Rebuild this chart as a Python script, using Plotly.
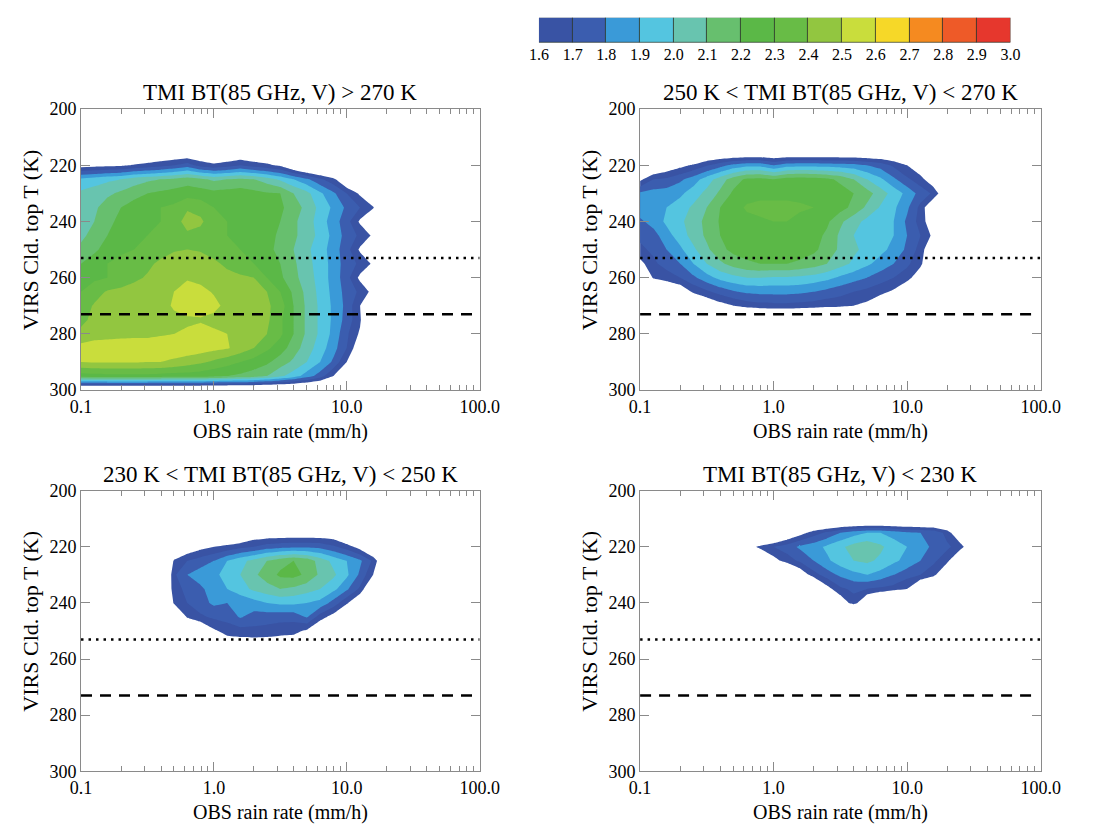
import plotly.graph_objects as go

# Grid coordinates: rain rate (mm/h, 0.1-decade steps) and VIRS cloud-top temperature (K)
RAIN_RATE = [0.1, 0.126, 0.158, 0.2, 0.251, 0.316, 0.398, 0.501, 0.631, 0.794,
             1.0, 1.26, 1.58, 2.0, 2.51, 3.16, 3.98, 5.01, 6.31, 7.94,
             10.0, 12.6, 15.8, 20.0, 25.1, 31.6, 39.8]
CLOUD_TOP_T = [210, 215, 220, 225, 230, 235, 240, 245, 250, 255,
               260, 265, 270, 275, 280, 285, 290, 295, 300]

# Binned field values, one row per CLOUD_TOP_T entry (values below 1.6 are left blank)
P1_WARM = [
    [1, 1, 1, 1, 1, 1, 1, 1, 1, 1, 1, 1, 1, 1, 1, 1, 1, 1, 1, 1, 1, 1, 1, 1, 1, 1, 1],
    [1.45, 1.45, 1.45, 1.45, 1.45, 1.45, 1.45, 1.45, 1.45, 1.45, 1.45, 1.45, 1.45, 1.45, 1.45, 1.45, 1.45, 1.2, 1.2, 1.2, 1.2, 1, 1, 1, 1, 1, 1],
    [1.55, 1.56, 1.57, 1.58, 1.61, 1.63, 1.66, 1.70, 1.75, 1.66, 1.62, 1.65, 1.70, 1.65, 1.62, 1.58, 1.45, 1.35, 1.30, 1.25, 1.20, 1, 1, 1, 1, 1, 1],
    [1.92, 1.95, 1.98, 2.00, 2.05, 2.08, 2.10, 2.12, 2.15, 2.12, 2.08, 2.10, 2.12, 2.10, 2.05, 1.98, 1.90, 1.82, 1.72, 1.63, 1.45, 1.30, 1, 1, 1, 1, 1],
    [2.02, 2.05, 2.08, 2.12, 2.16, 2.20, 2.22, 2.24, 2.26, 2.25, 2.23, 2.24, 2.25, 2.23, 2.21, 2.20, 2.10, 2.03, 1.92, 1.82, 1.70, 1.58, 1.30, 1, 1, 1, 1],
    [2.05, 2.08, 2.15, 2.20, 2.25, 2.28, 2.30, 2.32, 2.38, 2.36, 2.30, 2.28, 2.28, 2.27, 2.25, 2.22, 2.15, 2.07, 1.97, 1.88, 1.78, 1.70, 1.62, 1.20, 1, 1, 1],
    [2.05, 2.10, 2.18, 2.22, 2.26, 2.28, 2.30, 2.33, 2.46, 2.42, 2.33, 2.30, 2.30, 2.28, 2.25, 2.20, 2.12, 2.05, 1.95, 1.85, 1.74, 1.58, 1.35, 1, 1, 1, 1],
    [2.08, 2.13, 2.20, 2.25, 2.28, 2.30, 2.32, 2.33, 2.37, 2.36, 2.33, 2.30, 2.30, 2.28, 2.24, 2.18, 2.12, 2.05, 1.97, 1.87, 1.76, 1.68, 1.58, 1, 1, 1, 1],
    [2.12, 2.18, 2.24, 2.28, 2.30, 2.33, 2.36, 2.39, 2.40, 2.39, 2.36, 2.32, 2.30, 2.27, 2.23, 2.17, 2.10, 2.02, 1.95, 1.85, 1.74, 1.58, 1.30, 1, 1, 1, 1],
    [2.20, 2.25, 2.30, 2.33, 2.36, 2.38, 2.42, 2.45, 2.46, 2.45, 2.42, 2.38, 2.33, 2.30, 2.25, 2.20, 2.12, 2.03, 1.96, 1.86, 1.75, 1.68, 1.58, 1, 1, 1, 1],
    [2.25, 2.28, 2.30, 2.33, 2.38, 2.41, 2.44, 2.47, 2.49, 2.47, 2.45, 2.43, 2.42, 2.40, 2.30, 2.22, 2.13, 2.05, 1.96, 1.86, 1.74, 1.57, 1.30, 1, 1, 1, 1],
    [2.30, 2.36, 2.41, 2.43, 2.44, 2.45, 2.46, 2.50, 2.54, 2.53, 2.49, 2.46, 2.44, 2.42, 2.40, 2.30, 2.18, 2.07, 1.97, 1.87, 1.76, 1.68, 1.56, 1, 1, 1, 1],
    [2.35, 2.41, 2.43, 2.44, 2.45, 2.46, 2.47, 2.51, 2.56, 2.55, 2.53, 2.47, 2.45, 2.44, 2.42, 2.35, 2.20, 2.08, 1.98, 1.88, 1.77, 1.60, 1.35, 1, 1, 1, 1],
    [2.38, 2.42, 2.44, 2.45, 2.46, 2.47, 2.47, 2.48, 2.48, 2.49, 2.47, 2.46, 2.45, 2.44, 2.42, 2.32, 2.20, 2.08, 1.98, 1.88, 1.76, 1.62, 1.30, 1, 1, 1, 1],
    [2.42, 2.45, 2.46, 2.47, 2.48, 2.48, 2.49, 2.50, 2.52, 2.54, 2.52, 2.50, 2.47, 2.43, 2.40, 2.32, 2.20, 2.08, 1.98, 1.87, 1.72, 1.58, 1.30, 1, 1, 1, 1],
    [2.54, 2.56, 2.56, 2.56, 2.55, 2.55, 2.56, 2.56, 2.56, 2.55, 2.53, 2.51, 2.46, 2.40, 2.32, 2.25, 2.15, 2.05, 1.95, 1.84, 1.70, 1.50, 1.20, 1, 1, 1, 1],
    [2.50, 2.51, 2.51, 2.51, 2.51, 2.50, 2.50, 2.48, 2.45, 2.42, 2.38, 2.34, 2.30, 2.26, 2.22, 2.15, 2.08, 2.00, 1.90, 1.78, 1.60, 1.30, 1, 1, 1, 1, 1],
    [2.25, 2.26, 2.27, 2.27, 2.27, 2.27, 2.26, 2.25, 2.25, 2.24, 2.22, 2.20, 2.18, 2.15, 2.10, 2.02, 1.95, 1.85, 1.75, 1.60, 1.40, 1.20, 1, 1, 1, 1, 1],
    [1.30, 1.30, 1.30, 1.30, 1.30, 1.30, 1.30, 1.30, 1.30, 1.30, 1.30, 1.30, 1.30, 1.30, 1.30, 1.30, 1.30, 1.30, 1.30, 1.30, 1, 1, 1, 1, 1, 1, 1],
]

P2_MID = [
    [1, 1, 1, 1, 1, 1, 1, 1, 1, 1, 1, 1, 1, 1, 1, 1, 1, 1, 1, 1, 1, 1, 1, 1, 1, 1, 1],
    [1.3, 1.3, 1.3, 1.3, 1.3, 1.4, 1.4, 1.4, 1.4, 1.4, 1.4, 1.4, 1.4, 1.4, 1.4, 1.4, 1.4, 1.4, 1.4, 1.4, 1.35, 1.3, 1, 1, 1, 1, 1],
    [1.30, 1.42, 1.50, 1.56, 1.62, 1.69, 1.76, 1.83, 1.87, 1.87, 1.80, 1.86, 1.87, 1.87, 1.86, 1.85, 1.84, 1.80, 1.76, 1.68, 1.60, 1.50, 1.35, 1, 1, 1, 1],
    [1.57, 1.70, 1.72, 1.78, 1.85, 1.95, 2.05, 2.15, 2.22, 2.23, 2.20, 2.24, 2.25, 2.24, 2.22, 2.18, 2.10, 2.00, 1.92, 1.82, 1.72, 1.64, 1.50, 1.20, 1, 1, 1],
    [1.82, 1.84, 1.85, 1.88, 1.95, 2.03, 2.12, 2.22, 2.27, 2.28, 2.28, 2.28, 2.28, 2.27, 2.26, 2.24, 2.20, 2.14, 2.05, 1.96, 1.87, 1.76, 1.68, 1.45, 1, 1, 1],
    [1.86, 1.88, 1.90, 1.95, 2.02, 2.10, 2.20, 2.27, 2.31, 2.32, 2.32, 2.32, 2.31, 2.30, 2.28, 2.24, 2.17, 2.08, 1.99, 1.92, 1.82, 1.67, 1.45, 1.10, 1, 1, 1],
    [1.78, 1.84, 1.92, 1.98, 2.05, 2.13, 2.21, 2.26, 2.28, 2.29, 2.30, 2.30, 2.28, 2.26, 2.22, 2.12, 2.04, 1.97, 1.94, 1.90, 1.78, 1.66, 1.50, 1.10, 1, 1, 1],
    [1.72, 1.76, 1.86, 1.95, 2.04, 2.12, 2.20, 2.25, 2.27, 2.28, 2.28, 2.28, 2.26, 2.24, 2.18, 2.08, 2.00, 1.95, 1.93, 1.90, 1.80, 1.70, 1.57, 1.10, 1, 1, 1],
    [1.68, 1.72, 1.80, 1.88, 1.98, 2.08, 2.17, 2.23, 2.25, 2.26, 2.26, 2.26, 2.25, 2.22, 2.16, 2.08, 2.02, 1.97, 1.93, 1.87, 1.78, 1.66, 1.45, 1, 1, 1, 1],
    [1.56, 1.68, 1.74, 1.80, 1.90, 2.00, 2.08, 2.14, 2.18, 2.20, 2.20, 2.20, 2.18, 2.15, 2.10, 2.04, 1.98, 1.92, 1.86, 1.80, 1.72, 1.63, 1.40, 1, 1, 1, 1],
    [1.30, 1.62, 1.65, 1.70, 1.78, 1.86, 1.93, 1.97, 2.00, 2.00, 1.99, 1.99, 1.98, 1.96, 1.93, 1.88, 1.84, 1.80, 1.75, 1.70, 1.65, 1.50, 1.20, 1, 1, 1, 1],
    [1, 1.30, 1.45, 1.50, 1.62, 1.68, 1.74, 1.79, 1.82, 1.83, 1.83, 1.83, 1.82, 1.80, 1.77, 1.74, 1.70, 1.67, 1.63, 1.58, 1.45, 1.20, 1, 1, 1, 1, 1],
    [1, 1, 1.20, 1.30, 1.40, 1.48, 1.55, 1.60, 1.64, 1.66, 1.67, 1.67, 1.66, 1.65, 1.63, 1.62, 1.60, 1.57, 1.50, 1.40, 1.20, 1, 1, 1, 1, 1, 1],
    [1, 1, 1, 1.3, 1.3, 1.3, 1.3, 1.3, 1.3, 1.3, 1.3, 1.3, 1.3, 1.3, 1.3, 1.3, 1.3, 1.3, 1.3, 1, 1, 1, 1, 1, 1, 1, 1],
    [1, 1, 1, 1, 1, 1, 1, 1, 1, 1, 1, 1, 1, 1, 1, 1, 1, 1, 1, 1, 1, 1, 1, 1, 1, 1, 1],
    [1, 1, 1, 1, 1, 1, 1, 1, 1, 1, 1, 1, 1, 1, 1, 1, 1, 1, 1, 1, 1, 1, 1, 1, 1, 1, 1],
    [1, 1, 1, 1, 1, 1, 1, 1, 1, 1, 1, 1, 1, 1, 1, 1, 1, 1, 1, 1, 1, 1, 1, 1, 1, 1, 1],
    [1, 1, 1, 1, 1, 1, 1, 1, 1, 1, 1, 1, 1, 1, 1, 1, 1, 1, 1, 1, 1, 1, 1, 1, 1, 1, 1],
    [1, 1, 1, 1, 1, 1, 1, 1, 1, 1, 1, 1, 1, 1, 1, 1, 1, 1, 1, 1, 1, 1, 1, 1, 1, 1, 1],
]

P3_COLD = [
    [1, 1, 1, 1, 1, 1, 1, 1, 1, 1, 1, 1, 1, 1, 1, 1, 1, 1, 1, 1, 1, 1, 1, 1, 1, 1, 1],
    [1, 1, 1, 1, 1, 1, 1, 1, 1, 1, 1, 1.4, 1.4, 1.5, 1.5, 1.5, 1.5, 1.5, 1.5, 1.5, 1.4, 1, 1, 1, 1, 1, 1],
    [1, 1, 1, 1, 1, 1, 1, 1.30, 1.50, 1.56, 1.60, 1.63, 1.67, 1.70, 1.75, 1.77, 1.78, 1.78, 1.77, 1.72, 1.65, 1.55, 1.40, 1.20, 1, 1, 1],
    [1, 1, 1, 1, 1, 1, 1.20, 1.62, 1.70, 1.75, 1.80, 1.90, 1.97, 2.03, 2.10, 2.16, 2.20, 2.16, 2.06, 1.97, 1.90, 1.82, 1.68, 1.40, 1, 1, 1],
    [1, 1, 1, 1, 1, 1, 1.30, 1.68, 1.80, 1.85, 1.88, 1.93, 2.00, 2.08, 2.15, 2.22, 2.23, 2.18, 2.08, 2.02, 1.92, 1.78, 1.60, 1.20, 1, 1, 1],
    [1, 1, 1, 1, 1, 1, 1.30, 1.67, 1.72, 1.78, 1.85, 1.90, 1.96, 2.02, 2.06, 2.10, 2.08, 2.04, 2.00, 1.93, 1.82, 1.68, 1.40, 1, 1, 1, 1],
    [1, 1, 1, 1, 1, 1, 1.20, 1.62, 1.70, 1.76, 1.82, 1.80, 1.82, 1.86, 1.90, 1.92, 1.92, 1.90, 1.87, 1.76, 1.62, 1.45, 1.20, 1, 1, 1, 1],
    [1, 1, 1, 1, 1, 1, 1, 1.30, 1.62, 1.68, 1.72, 1.74, 1.81, 1.76, 1.75, 1.74, 1.74, 1.81, 1.65, 1.55, 1.35, 1, 1, 1, 1, 1, 1],
    [1, 1, 1, 1, 1, 1, 1, 1, 1.30, 1.45, 1.58, 1.64, 1.66, 1.67, 1.66, 1.64, 1.63, 1.58, 1.45, 1.20, 1, 1, 1, 1, 1, 1, 1],
    [1, 1, 1, 1, 1, 1, 1, 1, 1, 1, 1, 1.52, 1.52, 1.52, 1.52, 1.52, 1.52, 1, 1, 1, 1, 1, 1, 1, 1, 1, 1],
    [1, 1, 1, 1, 1, 1, 1, 1, 1, 1, 1, 1, 1, 1, 1, 1, 1, 1, 1, 1, 1, 1, 1, 1, 1, 1, 1],
    [1, 1, 1, 1, 1, 1, 1, 1, 1, 1, 1, 1, 1, 1, 1, 1, 1, 1, 1, 1, 1, 1, 1, 1, 1, 1, 1],
    [1, 1, 1, 1, 1, 1, 1, 1, 1, 1, 1, 1, 1, 1, 1, 1, 1, 1, 1, 1, 1, 1, 1, 1, 1, 1, 1],
    [1, 1, 1, 1, 1, 1, 1, 1, 1, 1, 1, 1, 1, 1, 1, 1, 1, 1, 1, 1, 1, 1, 1, 1, 1, 1, 1],
    [1, 1, 1, 1, 1, 1, 1, 1, 1, 1, 1, 1, 1, 1, 1, 1, 1, 1, 1, 1, 1, 1, 1, 1, 1, 1, 1],
    [1, 1, 1, 1, 1, 1, 1, 1, 1, 1, 1, 1, 1, 1, 1, 1, 1, 1, 1, 1, 1, 1, 1, 1, 1, 1, 1],
    [1, 1, 1, 1, 1, 1, 1, 1, 1, 1, 1, 1, 1, 1, 1, 1, 1, 1, 1, 1, 1, 1, 1, 1, 1, 1, 1],
    [1, 1, 1, 1, 1, 1, 1, 1, 1, 1, 1, 1, 1, 1, 1, 1, 1, 1, 1, 1, 1, 1, 1, 1, 1, 1, 1],
    [1, 1, 1, 1, 1, 1, 1, 1, 1, 1, 1, 1, 1, 1, 1, 1, 1, 1, 1, 1, 1, 1, 1, 1, 1, 1, 1],
]

P4_ICE = [
    [1, 1, 1, 1, 1, 1, 1, 1, 1, 1, 1, 1, 1, 1.3, 1.3, 1.3, 1.3, 1.3, 1.3, 1.3, 1.3, 1.3, 1.3, 1.3, 1.3, 1, 1],
    [1, 1, 1, 1, 1, 1, 1, 1, 1, 1, 1.30, 1.45, 1.55, 1.65, 1.72, 1.80, 1.86, 1.90, 1.90, 1.86, 1.82, 1.80, 1.78, 1.66, 1.45, 1.20, 1],
    [1, 1, 1, 1, 1, 1, 1, 1, 1.50, 1.65, 1.70, 1.75, 1.82, 1.86, 1.92, 1.98, 2.04, 2.07, 2.02, 1.95, 1.90, 1.84, 1.78, 1.72, 1.65, 1.45, 1],
    [1, 1, 1, 1, 1, 1, 1, 1, 1, 1.30, 1.55, 1.65, 1.72, 1.80, 1.88, 1.95, 2.00, 2.02, 1.98, 1.92, 1.87, 1.80, 1.72, 1.63, 1.40, 1, 1],
    [1, 1, 1, 1, 1, 1, 1, 1, 1, 1, 1, 1.30, 1.50, 1.66, 1.75, 1.82, 1.87, 1.90, 1.86, 1.80, 1.74, 1.70, 1.64, 1.40, 1, 1, 1],
    [1, 1, 1, 1, 1, 1, 1, 1, 1, 1, 1, 1, 1, 1.30, 1.55, 1.68, 1.72, 1.70, 1.68, 1.66, 1.60, 1.40, 1.20, 1, 1, 1, 1],
    [1, 1, 1, 1, 1, 1, 1, 1, 1, 1, 1, 1, 1, 1, 1, 1.50, 1.66, 1.45, 1.30, 1, 1, 1, 1, 1, 1, 1, 1],
    [1, 1, 1, 1, 1, 1, 1, 1, 1, 1, 1, 1, 1, 1, 1, 1, 1, 1, 1, 1, 1, 1, 1, 1, 1, 1, 1],
    [1, 1, 1, 1, 1, 1, 1, 1, 1, 1, 1, 1, 1, 1, 1, 1, 1, 1, 1, 1, 1, 1, 1, 1, 1, 1, 1],
    [1, 1, 1, 1, 1, 1, 1, 1, 1, 1, 1, 1, 1, 1, 1, 1, 1, 1, 1, 1, 1, 1, 1, 1, 1, 1, 1],
    [1, 1, 1, 1, 1, 1, 1, 1, 1, 1, 1, 1, 1, 1, 1, 1, 1, 1, 1, 1, 1, 1, 1, 1, 1, 1, 1],
    [1, 1, 1, 1, 1, 1, 1, 1, 1, 1, 1, 1, 1, 1, 1, 1, 1, 1, 1, 1, 1, 1, 1, 1, 1, 1, 1],
    [1, 1, 1, 1, 1, 1, 1, 1, 1, 1, 1, 1, 1, 1, 1, 1, 1, 1, 1, 1, 1, 1, 1, 1, 1, 1, 1],
    [1, 1, 1, 1, 1, 1, 1, 1, 1, 1, 1, 1, 1, 1, 1, 1, 1, 1, 1, 1, 1, 1, 1, 1, 1, 1, 1],
    [1, 1, 1, 1, 1, 1, 1, 1, 1, 1, 1, 1, 1, 1, 1, 1, 1, 1, 1, 1, 1, 1, 1, 1, 1, 1, 1],
    [1, 1, 1, 1, 1, 1, 1, 1, 1, 1, 1, 1, 1, 1, 1, 1, 1, 1, 1, 1, 1, 1, 1, 1, 1, 1, 1],
    [1, 1, 1, 1, 1, 1, 1, 1, 1, 1, 1, 1, 1, 1, 1, 1, 1, 1, 1, 1, 1, 1, 1, 1, 1, 1, 1],
    [1, 1, 1, 1, 1, 1, 1, 1, 1, 1, 1, 1, 1, 1, 1, 1, 1, 1, 1, 1, 1, 1, 1, 1, 1, 1, 1],
    [1, 1, 1, 1, 1, 1, 1, 1, 1, 1, 1, 1, 1, 1, 1, 1, 1, 1, 1, 1, 1, 1, 1, 1, 1, 1, 1],
]

PANEL_TITLES = [
    "TMI BT(85 GHz, V) > 270 K",
    "250 K < TMI BT(85 GHz, V) < 270 K",
    "230 K < TMI BT(85 GHz, V) < 250 K",
    "TMI BT(85 GHz, V) < 230 K",
]
PANEL_GRIDS = [P1_WARM, P2_MID, P3_COLD, P4_ICE]

# Contour levels and the fill colour of each band between consecutive levels
LEVELS = [1.6, 1.7, 1.8, 1.9, 2.0, 2.1, 2.2, 2.3, 2.4, 2.5, 2.6, 2.7, 2.8, 2.9, 3.0]
LEVEL_LABELS = ["1.6", "1.7", "1.8", "1.9", "2.0", "2.1", "2.2", "2.3",
                "2.4", "2.5", "2.6", "2.7", "2.8", "2.9", "3.0"]
BAND_COLORS = ["#3953A4", "#3B5DAF", "#3A9AD8", "#54C5E0", "#68C4AF", "#67BF6E",
               "#5BB847", "#68BC46", "#92C640", "#C9DD3C", "#F6D828", "#F58A20",
               "#EE5A28", "#E6372D"]

# Reference temperatures: -20 C (dotted) and freezing level (dashed)
T_DOTTED = 253
T_DASHED = 273

X_TICKS = [0.1, 1, 10, 100]
X_TICKTEXT = ["0.1", "1.0", "10.0", "100.0"]
X_MINOR = [0.2, 0.3, 0.4, 0.5, 0.6, 0.7, 0.8, 0.9,
           2, 3, 4, 5, 6, 7, 8, 9,
           20, 30, 40, 50, 60, 70, 80, 90]
Y_TICKS = [200, 220, 240, 260, 280, 300]

FONT = "Liberation Serif"
AXIS_GRAY = "#8a8a8a"
W, H = 1119, 833

# fill colorscale: white below the first level, then one colour per band
fill_colors = ["#ffffff"] + BAND_COLORS + [BAND_COLORS[-1]]
n_stops = len(fill_colors) - 1
colorscale = [[i / n_stops, c] for i, c in enumerate(fill_colors)]

# panel boxes in pixels: (left, right, top, bottom)
boxes = [(72, 482, 101.5, 389.5), (647, 1059, 101.5, 389.5),
         (72, 482, 492.5, 780), (647, 1059, 492.5, 780)]

fig = go.Figure()
layout = dict(
    width=W, height=H,
    margin=dict(l=0, r=0, t=0, b=0),
    paper_bgcolor="white", plot_bgcolor="white",
    showlegend=False,
    font=dict(family=FONT, color="black"),
    annotations=[],
)

for k, (grid, title, box) in enumerate(zip(PANEL_GRIDS, PANEL_TITLES, boxes), start=1):
    xa = "x" if k == 1 else f"x{k}"
    ya = "y" if k == 1 else f"y{k}"
    left, right, top, bottom = box

    fig.add_trace(go.Contour(
        x=RAIN_RATE, y=CLOUD_TOP_T, z=grid,
        xaxis=xa, yaxis=ya,
        colorscale=colorscale,
        autocontour=False,
        contours=dict(start=LEVELS[0], end=LEVELS[-1], size=0.1,
                      coloring="fill", showlines=False),
        line=dict(width=0, smoothing=0),
        showscale=False, hoverinfo="skip",
    ))
    fig.add_trace(go.Scatter(
        x=[X_TICKS[0], X_TICKS[-1]], y=[T_DOTTED, T_DOTTED],
        xaxis=xa, yaxis=ya, mode="lines",
        line=dict(color="black", width=2.5, dash="2.5px,5px"),
        hoverinfo="skip",
    ))
    fig.add_trace(go.Scatter(
        x=[X_TICKS[0], 90], y=[T_DASHED, T_DASHED],
        xaxis=xa, yaxis=ya, mode="lines",
        line=dict(color="black", width=2.5, dash="11px,8px"),
        hoverinfo="skip",
    ))

    xkey = "xaxis" if k == 1 else f"xaxis{k}"
    ykey = "yaxis" if k == 1 else f"yaxis{k}"
    layout[xkey] = dict(
        domain=[left / W, right / W], anchor=ya,
        type="log", range=[-1, 2],
        tickmode="array", tickvals=X_TICKS, ticktext=X_TICKTEXT,
        ticks="inside", ticklen=9, tickwidth=1, tickcolor=AXIS_GRAY,
        minor=dict(tickmode="array", tickvals=X_MINOR, ticks="inside",
                   ticklen=5, tickwidth=1, tickcolor=AXIS_GRAY, showgrid=False),
        showline=True, linecolor=AXIS_GRAY, linewidth=1, mirror="ticks",
        showgrid=False, zeroline=False,
        tickfont=dict(size=18, family=FONT, color="black"),
    )
    layout[ykey] = dict(
        domain=[1 - bottom / H, 1 - top / H], anchor=xa,
        range=[300, 200],
        tickmode="array", tickvals=Y_TICKS,
        ticks="inside", ticklen=9, tickwidth=1, tickcolor=AXIS_GRAY,
        showline=True, linecolor=AXIS_GRAY, linewidth=1, mirror="ticks",
        showgrid=False, zeroline=False,
        tickfont=dict(size=18, family=FONT, color="black"),
    )

    cx = (left + right) / 2
    title_y = top - 17
    layout["annotations"].append(dict(
        text=title, x=cx / W, y=1 - title_y / H, xref="paper", yref="paper",
        xanchor="center", yanchor="middle", showarrow=False,
        font=dict(size=23, family=FONT, color="black"),
    ))
    layout["annotations"].append(dict(
        text="OBS rain rate (mm/h)", x=cx / W, y=1 - (bottom + 42) / H,
        xref="paper", yref="paper", xanchor="center", yanchor="middle",
        showarrow=False, font=dict(size=20, family=FONT, color="black"),
    ))
    layout["annotations"].append(dict(
        text="VIRS Cld. top T (K)", x=(left - 52) / W,
        y=1 - ((top + bottom) / 2 - 10) / H,
        xref="paper", yref="paper", xanchor="center", yanchor="middle",
        textangle=-90, showarrow=False,
        font=dict(size=22, family=FONT, color="black"),
    ))

# horizontal colour key drawn as adjoining bars, one per band
band_mid = [(a + b) / 2 for a, b in zip(LEVELS[:-1], LEVELS[1:])]
fig.add_trace(go.Bar(
    x=band_mid, y=[1] * len(band_mid), width=0.1,
    marker=dict(color=BAND_COLORS, line=dict(color="rgba(40,50,40,0.7)", width=1)),
    xaxis="x5", yaxis="y5", hoverinfo="skip",
))
layout["xaxis5"] = dict(
    domain=[543 / W, 1028 / W], anchor="y5", range=[LEVELS[0], LEVELS[-1]],
    tickmode="array", tickvals=LEVELS, ticktext=LEVEL_LABELS,
    ticks="", showline=False, showgrid=False, zeroline=False,
    tickfont=dict(size=16, family=FONT, color="black"),
)
layout["yaxis5"] = dict(
    domain=[1 - 34 / H, 1 - 8 / H], anchor="x5", range=[0, 1], visible=False,
)
layout["bargap"] = 0

fig.update_layout(**layout)
fig.write_html("out.html")
